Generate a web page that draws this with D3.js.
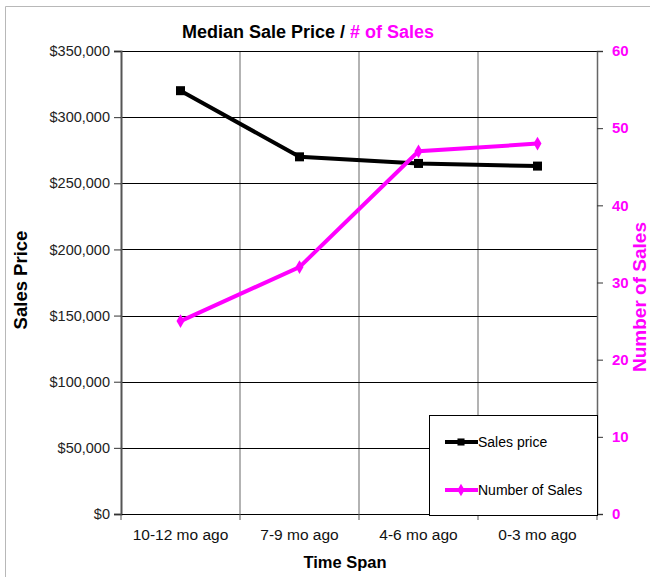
<!DOCTYPE html>
<html>
<head>
<meta charset="utf-8">
<script src="https://cdn.jsdelivr.net/npm/d3@7"></script>
<style>
	body { margin: 0; background: #fff; }
	svg { display: block; font-family: "Liberation Sans", Arial, sans-serif; }
</style>
</head>
<body>
<svg id="chart" width="650" height="577"></svg>
<script>
// data
const categories = ["10-12 mo ago", "7-9 mo ago", "4-6 mo ago", "0-3 mo ago"];
const salesPrice = [320000, 270000, 265000, 263000];
const numberOfSales = [25, 32, 47, 48];
const priceTicks = [0, 50000, 100000, 150000, 200000, 250000, 300000, 350000];
const countTicks = [0, 10, 20, 30, 40, 50, 60];

const MAGENTA = "#ff00ff";
const plot = { left: 121, right: 597, top: 51, bottom: 514 };

const svg = d3.select("#chart");

// outer frame (top + left only)
svg.append("path")
	.attr("d", "M5.5,577V6.5H650")
	.attr("fill", "none")
	.attr("stroke", "#b8b8b8");

const xScale = d3.scaleBand()
	.domain(categories)
	.range([plot.left, plot.right]);
const yPrice = d3.scaleLinear()
	.domain([0, 350000])
	.range([plot.bottom, plot.top]);
const yCount = d3.scaleLinear()
	.domain([0, 60])
	.range([plot.bottom, plot.top]);

// gridlines
const bounds = categories.slice(1).map(c => xScale(c));
svg.append("g")
	.selectAll("line")
	.data(bounds)
	.join("line")
		.attr("x1", d => d)
		.attr("x2", d => d)
		.attr("y1", plot.top)
		.attr("y2", plot.bottom)
		.attr("stroke", "#9a9a9a")
		.attr("stroke-width", 1.5);

svg.append("g")
	.selectAll("line")
	.data(priceTicks.slice(1))
	.join("line")
		.attr("x1", plot.left)
		.attr("x2", plot.right)
		.attr("y1", d => Math.round(yPrice(d)) + 0.5)
		.attr("y2", d => Math.round(yPrice(d)) + 0.5)
		.attr("stroke", "#000");

// left axis
const leftAxis = svg.append("g")
	.attr("transform", `translate(${plot.left},0)`)
	.call(d3.axisLeft(yPrice)
		.tickValues(priceTicks)
		.tickSize(7)
		.tickPadding(4)
		.tickFormat(d => "$" + d3.format(",")(d)));
leftAxis.select(".domain").attr("stroke", "#555").attr("stroke-width", 2);
leftAxis.selectAll(".tick line").attr("stroke", "#333");
leftAxis.selectAll("text")
	.attr("font-size", "14.5px")
	.attr("fill", "#222");

// right axis
const rightAxis = svg.append("g")
	.attr("transform", `translate(${plot.right},0)`)
	.call(d3.axisRight(yCount)
		.tickValues(countTicks)
		.tickSize(6)
		.tickPadding(9));
rightAxis.select(".domain").attr("stroke", "#666").attr("stroke-width", 1.5);
rightAxis.selectAll(".tick line").attr("stroke", "#333");
rightAxis.selectAll("text")
	.attr("font-size", "15px")
	.attr("font-weight", "bold")
	.attr("fill", MAGENTA);

// bottom axis
const xAxis = svg.append("g")
	.attr("transform", `translate(0,${plot.bottom})`)
	.call(d3.axisBottom(xScale).tickSize(0).tickPadding(15));
xAxis.select(".domain").attr("stroke", "#000").attr("stroke-width", 1.2);
xAxis.selectAll("text")
	.attr("font-size", "15.5px")
	.attr("fill", "#111");
xAxis.selectAll("line.sep")
	.data([plot.left, ...bounds, plot.right])
	.join("line")
		.attr("class", "sep")
		.attr("x1", d => d)
		.attr("x2", d => d)
		.attr("y1", 0)
		.attr("y2", 6)
		.attr("stroke", "#555");

// series
const priceLine = d3.line()
	.x((d, i) => xScale(categories[i]) + xScale.bandwidth() / 2)
	.y(d => yPrice(d));
const countLine = d3.line()
	.x((d, i) => xScale(categories[i]) + xScale.bandwidth() / 2)
	.y(d => yCount(d));

svg.append("path")
	.datum(salesPrice)
	.attr("d", priceLine)
	.attr("fill", "none")
	.attr("stroke", "#000")
	.attr("stroke-width", 4);
svg.append("g")
	.selectAll("rect")
	.data(salesPrice)
	.join("rect")
		.attr("x", (d, i) => xScale(categories[i]) + xScale.bandwidth() / 2 - 4.5)
		.attr("y", d => yPrice(d) - 4.5)
		.attr("width", 9)
		.attr("height", 9)
		.attr("fill", "#000");

svg.append("path")
	.datum(numberOfSales)
	.attr("d", countLine)
	.attr("fill", "none")
	.attr("stroke", MAGENTA)
	.attr("stroke-width", 4);
svg.append("g")
	.selectAll("path")
	.data(numberOfSales)
	.join("path")
		.attr("d", d3.symbol(d3.symbolDiamond, 55))
		.attr("transform", (d, i) => `translate(${xScale(categories[i]) + xScale.bandwidth() / 2},${yCount(d)})`)
		.attr("fill", MAGENTA);

// legend
const legend = svg.append("g").attr("transform", "translate(429,415)");
legend.append("rect")
	.attr("x", 0.5)
	.attr("y", 0.5)
	.attr("width", 168)
	.attr("height", 100)
	.attr("fill", "#fff")
	.attr("stroke", "#000");
const legendItems = [
	{ label: "Sales price", color: "#000", y: 27, marker: "square" },
	{ label: "Number of Sales", color: MAGENTA, y: 75, marker: "diamond" }
];
legendItems.forEach(item => {
	legend.append("line")
		.attr("x1", 16).attr("x2", 49)
		.attr("y1", item.y).attr("y2", item.y)
		.attr("stroke", item.color)
		.attr("stroke-width", 4);
	legend.append("path")
		.attr("d", d3.symbol(item.marker === "square" ? d3.symbolSquare : d3.symbolDiamond, item.marker === "square" ? 50 : 45))
		.attr("transform", `translate(32,${item.y})`)
		.attr("fill", item.color);
	legend.append("text")
		.attr("x", 49)
		.attr("y", item.y + 5)
		.attr("font-size", "14px")
		.attr("fill", "#000")
		.text(item.label);
});

// titles
const title = svg.append("text")
	.attr("x", 308)
	.attr("y", 38)
	.attr("text-anchor", "middle")
	.attr("font-size", "18px")
	.attr("font-weight", "bold");
title.append("tspan").attr("fill", "#000").text("Median Sale Price / ");
title.append("tspan").attr("fill", MAGENTA).text("# of Sales");

svg.append("text")
	.attr("x", 345)
	.attr("y", 568)
	.attr("text-anchor", "middle")
	.attr("font-size", "16.5px")
	.attr("font-weight", "bold")
	.text("Time Span");

svg.append("text")
	.attr("transform", "translate(27,280) rotate(-90)")
	.attr("text-anchor", "middle")
	.attr("font-size", "18.5px")
	.attr("font-weight", "bold")
	.text("Sales Price");

svg.append("text")
	.attr("transform", "translate(646,297) rotate(-90)")
	.attr("text-anchor", "middle")
	.attr("font-size", "19px")
	.attr("font-weight", "bold")
	.attr("fill", MAGENTA)
	.text("Number of Sales");
</script>
</body>
</html>
